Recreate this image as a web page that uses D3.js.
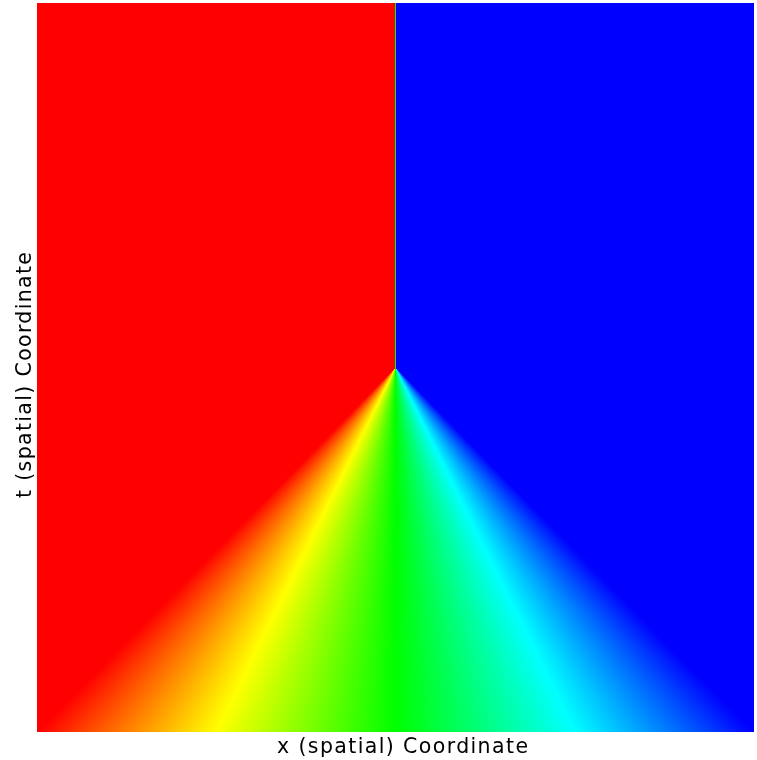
<!DOCTYPE html>
<html>
<head>
<meta charset="utf-8">
<script src="https://cdn.jsdelivr.net/npm/d3@7"></script>
<style>
  html, body { margin: 0; padding: 0; background: #fff; }
  #wrap { position: relative; width: 757px; height: 760px; }
  #wrap canvas, #wrap svg { position: absolute; left: 0; top: 0; }
  text { font-family: "DejaVu Sans", sans-serif; fill: #000; }
</style>
</head>
<body>
<div id="wrap">
  <canvas id="field"></canvas>
  <svg id="chart" width="757" height="760"></svg>
</div>
<script>
// domain of the field
const xExtent = [-1, 1];
const tExtent = [0, 1];
// the two constant states and the point where the fan opens
const states = [-1, 1];
const fanOrigin = [0, 0.5];
const axisLabels = ['x (spatial) Coordinate', 't (spatial) Coordinate'];

const W = 757, H = 760;
const margin = { left: 37, top: 3, right: 3.5, bottom: 28.5 };
const pw = Math.round(W - margin.left - margin.right);
const ph = Math.round(H - margin.top - margin.bottom);

const x = d3.scaleLinear().domain(xExtent).range([0, pw]);
const t = d3.scaleLinear().domain(tExtent).range([0, ph]);
const color = d3.scaleSequential(h => d3.hsl(240 * h, 1, 0.5)).domain(states);

// value of the solution at (xv, tv)
function u(xv, tv) {
  const dx = xv - fanOrigin[0];
  if (tv <= fanOrigin[1]) return dx < 0 ? states[0] : dx > 0 ? states[1] : 0;
  const spread = (tv - fanOrigin[1]) / (tExtent[1] - fanOrigin[1]);
  return Math.max(states[0], Math.min(states[1], dx / (spread * (xExtent[1] - fanOrigin[0]))));
}

const canvas = d3.select('#field')
  .attr('width', W).attr('height', H)
  .node();
const ctx = canvas.getContext('2d');
const img = ctx.createImageData(pw, ph);
for (let j = 0; j < ph; j++) {
  const tv = t.invert(j + 0.5);
  for (let i = 0; i < pw; i++) {
    const c = d3.rgb(color(u(x.invert(i + 0.5), tv)));
    const k = 4 * (j * pw + i);
    img.data[k] = c.r; img.data[k + 1] = c.g; img.data[k + 2] = c.b; img.data[k + 3] = 255;
  }
}
ctx.putImageData(img, margin.left, margin.top);

const svg = d3.select('#chart');

// the original font is wider than DejaVu, so stretch the spacing a little
svg.append('text')
  .attr('x', 402.5)
  .attr('y', 753)
  .attr('text-anchor', 'middle')
  .attr('textLength', 251)
  .attr('lengthAdjust', 'spacing')
  .style('font-size', '20.5px')
  .text(axisLabels[0]);

svg.append('text')
  .attr('transform', 'translate(31,375) rotate(-90)')
  .attr('text-anchor', 'middle')
  .attr('textLength', 246)
  .attr('lengthAdjust', 'spacing')
  .style('font-size', '20.5px')
  .text(axisLabels[1]);
</script>
</body>
</html>
